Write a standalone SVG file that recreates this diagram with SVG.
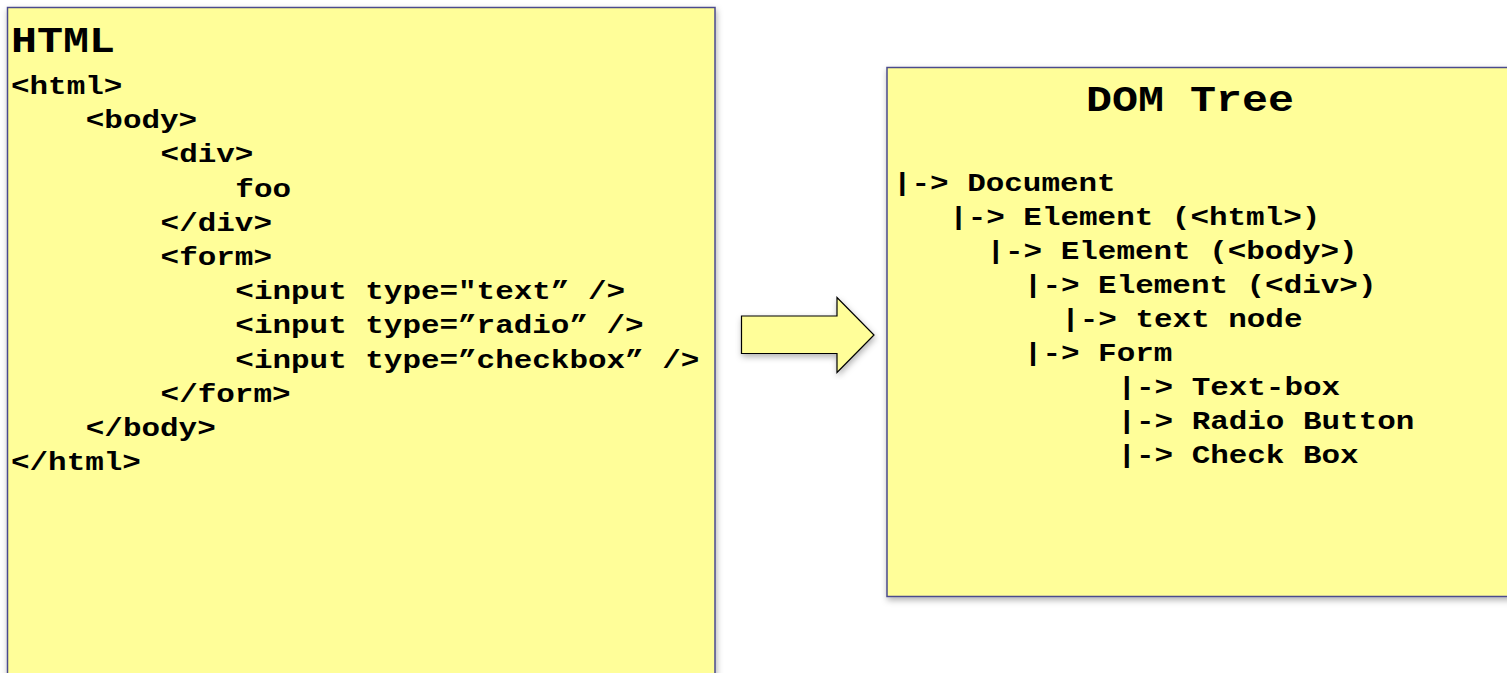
<svg xmlns="http://www.w3.org/2000/svg" width="1507" height="673" viewBox="0 0 1507 673">
<defs>
<filter id="sh" x="-10%" y="-10%" width="120%" height="120%">
<feDropShadow dx="1" dy="3" stdDeviation="3" flood-color="#000" flood-opacity="0.3"/>
</filter>
<style>
.box{fill:#FFFE99;stroke:#4B4B8C;stroke-width:1.5;filter:url(#sh)}
.code{font-family:"Liberation Mono","Courier New",monospace;font-weight:bold;font-size:26px;fill:#000}
.head{font-family:"Liberation Mono","Courier New",monospace;font-weight:bold;font-size:36.4px;fill:#000}
.arrow{fill:#FFFE99;stroke:#000;stroke-width:1.2;filter:url(#sh)}
</style>
</defs>
<rect width="1507" height="673" fill="#fff"/>
<g id="html-box">
<rect class="box" x="7.5" y="7.5" width="707.5" height="680"/>
<g transform="scale(1.19,1)">
<text class="head" x="9.24" y="52">HTML</text>
<text class="code" x="9.24" y="94">&lt;html&gt;</text>
<text class="code" x="72.1" y="128.2">&lt;body&gt;</text>
<text class="code" x="134.96" y="162.4">&lt;div&gt;</text>
<text class="code" x="197.8" y="196.6">foo</text>
<text class="code" x="134.96" y="230.8">&lt;/div&gt;</text>
<text class="code" x="134.96" y="265">&lt;form&gt;</text>
<text class="code" x="197.8" y="299.2">&lt;input type="text” /&gt;</text>
<text class="code" x="197.8" y="333.4">&lt;input type=”radio” /&gt;</text>
<text class="code" x="197.8" y="367.6">&lt;input type=”checkbox” /&gt;</text>
<text class="code" x="134.96" y="401.8">&lt;/form&gt;</text>
<text class="code" x="72.1" y="436">&lt;/body&gt;</text>
<text class="code" x="9.24" y="470.2">&lt;/html&gt;</text>
</g>
</g>
<g id="dom-box">
<rect class="box" x="887" y="67.5" width="640" height="529"/>
<g transform="scale(1.19,1)">
<text class="head" x="1000" y="111" text-anchor="middle">DOM Tree</text>
<text class="code" x="750.4" y="191.5">|-&gt; Document</text>
<text class="code" x="797.6" y="225.4">|-&gt; Element (&lt;html&gt;)</text>
<text class="code" x="829.0" y="259.3">|-&gt; Element (&lt;body&gt;)</text>
<text class="code" x="860.4" y="293.2">|-&gt; Element (&lt;div&gt;)</text>
<text class="code" x="891.8" y="327.1">|-&gt; text node</text>
<text class="code" x="860.4" y="361">|-&gt; Form</text>
<text class="code" x="939.0" y="394.9">|-&gt; Text-box</text>
<text class="code" x="939.0" y="428.8">|-&gt; Radio Button</text>
<text class="code" x="939.0" y="462.7">|-&gt; Check Box</text>
</g>
</g>
<g id="connectors">
<polygon class="arrow" points="741.5,316 837,316 837,297.5 874,335 837,372.5 837,353.5 741.5,353.5"/>
</g>
</svg>
